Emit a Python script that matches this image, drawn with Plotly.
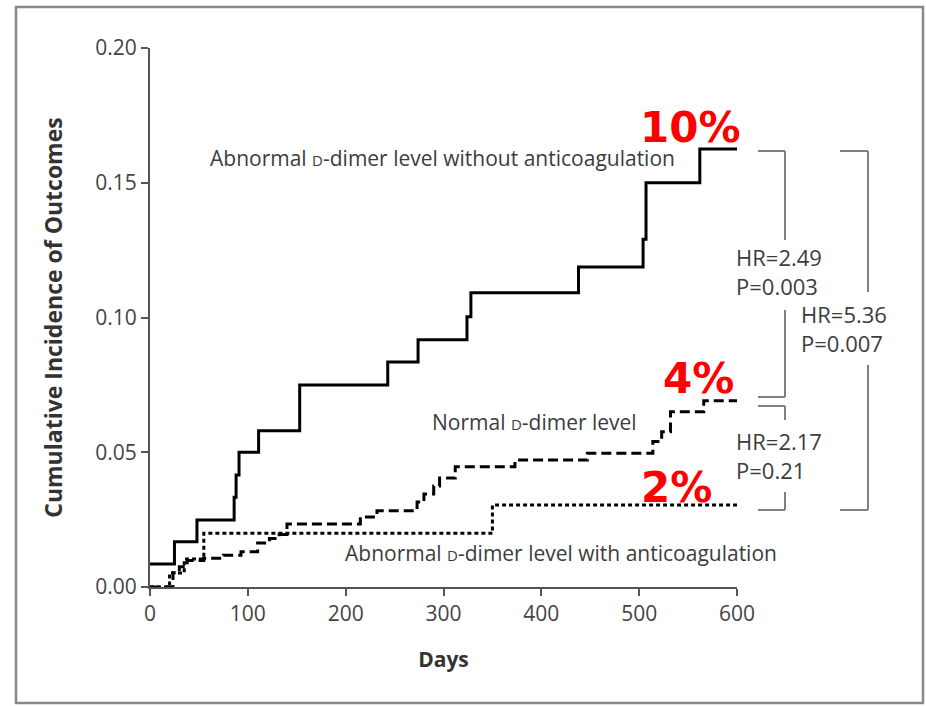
import plotly.graph_objects as go

# ---------------- data ----------------
days_without_ac = [0, 25, 48, 86, 88, 91, 111, 153, 243, 274, 324, 328, 438, 504, 507, 562, 600]
inc_without_ac = [0.0085, 0.0168, 0.0249, 0.0333, 0.0416, 0.050, 0.058, 0.075, 0.0835, 0.0917,
                  0.1003, 0.1092, 0.1187, 0.129, 0.150, 0.1625, 0.1625]

days_normal = [0, 23.5, 30, 38, 55, 75, 93, 110, 122, 132, 140, 215, 232, 273, 280, 290, 296,
               312, 373, 447, 514, 523, 532, 566, 600]
inc_normal = [0.0, 0.0053, 0.0075, 0.0098, 0.0107, 0.0118, 0.0131, 0.0163, 0.018, 0.0195, 0.0234,
              0.026, 0.0283, 0.0315, 0.0345, 0.0375, 0.0404, 0.0446, 0.0471, 0.0496, 0.054,
              0.0576, 0.065, 0.0691, 0.0691]

days_with_ac = [0, 20, 35, 55, 350, 600]
inc_with_ac = [0.0, 0.0052, 0.0104, 0.0199, 0.0304, 0.0304]

x_ticks = [0, 100, 200, 300, 400, 500, 600]
y_ticks = [0.00, 0.05, 0.10, 0.15, 0.20]

label_without = "Abnormal <span style='font-size:15px'>D</span>-dimer level without anticoagulation"
label_normal = "Normal <span style='font-size:15px'>D</span>-dimer level"
label_with = "Abnormal <span style='font-size:15px'>D</span>-dimer level with anticoagulation"
pct_labels = ["10%", "4%", "2%"]
hr_labels = ["HR=2.49<br>P=0.003", "HR=2.17<br>P=0.21", "HR=5.36<br>P=0.007"]

# ---------------- layout geometry (pixels) ----------------
W, H = 926, 706
PL, PR, PT, PB = 150, 737, 48, 587


def px(x):
    return (x - PL) / (PR - PL)


def py(y):
    return (PB - y) / (PB - PT)


FONT = "Open Sans"
TXT = "#3c3c3c"
AX = "#555555"

fig = go.Figure()
fig.add_trace(go.Scatter(x=days_without_ac, y=inc_without_ac, mode="lines", line_shape="hv",
                         line=dict(color="black", width=3), showlegend=False))
fig.add_trace(go.Scatter(x=days_normal, y=inc_normal, mode="lines", line_shape="hv",
                         line=dict(color="black", width=3, dash="10px,5px"), showlegend=False))
fig.add_trace(go.Scatter(x=days_with_ac, y=inc_with_ac, mode="lines", line_shape="hv",
                         line=dict(color="black", width=3, dash="4px,3px"), showlegend=False))

shapes = []
# outer frame
shapes.append(dict(type="rect", xref="paper", yref="paper", x0=px(16), x1=px(923), y0=py(703), y1=py(7),
                   line=dict(color="#888888", width=2.5)))

BR = dict(color="#808080", width=2)


def seg(x0, y0, x1, y1):
    shapes.append(dict(type="line", xref="paper", yref="paper", x0=px(x0), y0=py(y0),
                       x1=px(x1), y1=py(y1), line=BR))


# bracket HR 2.49
seg(758, 151, 785, 151); seg(785, 151, 785, 240); seg(785, 310, 785, 397); seg(758, 397, 785, 397)
# bracket HR 2.17
seg(758, 406, 785, 406); seg(785, 406, 785, 420); seg(785, 492, 785, 510); seg(758, 510, 785, 510)
# bracket HR 5.36
seg(840, 151, 868, 151); seg(868, 151, 868, 292); seg(868, 365, 868, 510); seg(840, 510, 868, 510)

ann = []


def text(s, x, y, size, color=TXT, bold=False, family=FONT, anchor="left"):
    ann.append(dict(text=f"<b>{s}</b>" if bold else s, xref="paper", yref="paper", x=px(x), y=py(y),
                    xanchor=anchor, yanchor="middle", showarrow=False,
                    font=dict(family=family, size=size, color=color), align="left"))


text(label_without, 208, 158, 21)
text(label_normal, 430, 422, 21)
text(label_with, 343, 553, 21)

text(pct_labels[0], 638, 127, 42, color="#ff0000", bold=True, family="DejaVu Sans")
text(pct_labels[1], 661, 379, 42, color="#ff0000", bold=True, family="DejaVu Sans")
text(pct_labels[2], 639, 487, 42, color="#ff0000", bold=True, family="DejaVu Sans")

text(hr_labels[0], 734, 271, 22)
text(hr_labels[1], 734, 455, 22)
text(hr_labels[2], 799, 328, 22)

fig.update_layout(
    width=W, height=H,
    margin=dict(l=PL, r=W - PR, t=PT, b=H - PB, pad=0),
    paper_bgcolor="white", plot_bgcolor="white",
    shapes=shapes, annotations=ann,
    font=dict(family=FONT, color=TXT),
    xaxis=dict(range=[0, 600], tickvals=x_ticks, ticks="outside", ticklen=7, tickwidth=2,
               tickcolor=AX, showline=True, linecolor=AX, linewidth=2, showgrid=False,
               zeroline=False, tickfont=dict(size=21, color="#444444"),
               title=dict(text="<b>Days</b>", font=dict(size=21, color="#333333"), standoff=26)),
    yaxis=dict(range=[0, 0.2], tickvals=y_ticks, tickformat=".2f", ticks="outside", ticklen=7,
               tickwidth=2, tickcolor=AX, showline=True, linecolor=AX, linewidth=2, showgrid=False,
               zeroline=False, tickfont=dict(size=21, color="#444444"),
               title=dict(text="<b>Cumulative Incidence of Outcomes</b>",
                          font=dict(size=23, color="#333333"), standoff=26)),
)

fig.write_html("out.html", config={"displayModeBar": False},
               post_script="document.body.style.margin='0';")
